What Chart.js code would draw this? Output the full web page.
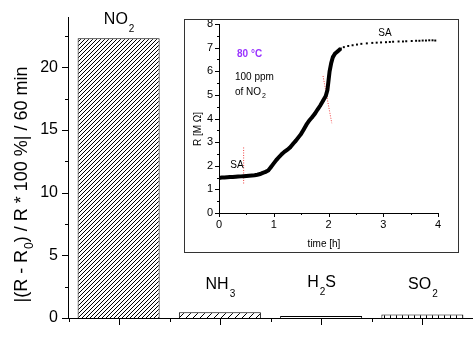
<!DOCTYPE html>
<html>
<head>
<meta charset="utf-8">
<script src="https://cdn.jsdelivr.net/npm/chart.js@4/dist/chart.umd.min.js"></script>
<style>
html,body{margin:0;padding:0;background:#fff;}
#wrap{position:relative;width:473px;height:361px;}
#inset{position:absolute;left:184px;top:19px;width:275px;height:234px;border:1px solid #333;box-sizing:border-box;background:#fff;}
canvas{display:block;}
</style>
</head>
<body>
<div id="wrap">
  <canvas id="main" width="473" height="361"></canvas>
  <div id="inset"><canvas id="ins" width="273" height="232"></canvas></div>
</div>
<script>
// main bar chart data
const gases = ['NO2','NH3','H2S','SO2'];
const gasLabels = [[['NO',0],['2',1]], [['NH',0],['3',1]], [['H',0],['2',1],['S',0]], [['SO',0],['2',1]]];
const labelY = [20, 285, 283, 285];
const response = [22.3, 0.45, 0.15, 0.27];
const yTicks = [0,5,10,15,20];
const yMinor = [2.5,7.5,12.5,17.5,22.5];

// inset: resistance vs time, 80 C, 100 ppm NO2
const riseTime = [0,0.05,0.1,0.15,0.2,0.25,0.3,0.35,0.4,0.45,0.5,0.55,0.6,0.65,0.7,0.75,0.8,0.85,0.9,0.95,
  1.0,1.05,1.1,1.15,1.2,1.25,1.3,1.35,1.4,1.45,1.5,1.55,1.6,1.65,1.7,1.75,1.8,1.85,1.9,1.95,1.98,2.0,2.02,2.05,2.08,2.12,2.17,2.22];
const riseR = [1.48,1.5,1.5,1.51,1.52,1.52,1.53,1.54,1.55,1.56,1.57,1.58,1.59,1.6,1.62,1.65,1.7,1.74,1.8,1.95,
  2.1,2.25,2.38,2.5,2.6,2.68,2.78,2.92,3.05,3.2,3.35,3.55,3.75,3.92,4.05,4.2,4.38,4.55,4.75,4.95,5.2,5.6,6.0,6.35,6.6,6.75,6.85,6.95];
const tailTime = [2.28,2.36,2.44,2.52,2.6,2.7,2.8,2.88,2.96,3.05,3.12,3.18,3.28,3.36,3.42,3.52,3.6,3.66,3.72,3.78,3.84,3.9,3.95];
const tailR = [7.02,7.07,7.1,7.13,7.16,7.18,7.2,7.21,7.22,7.23,7.24,7.25,7.26,7.26,7.27,7.28,7.29,7.29,7.3,7.3,7.31,7.31,7.3];
const mark1 = [[0.45,1.25],[0.45,2.8]];
const mark2 = [[1.9,5.8],[2.06,3.8]];
const insXTicks = [0,1,2,3,4];
const insYTicks = [0,1,2,3,4,5,6,7,8];

const FONT = 'Arial, "Liberation Sans", sans-serif';

function makePattern(size, draw){
  const c = document.createElement('canvas');
  c.width = c.height = size;
  const g = c.getContext('2d');
  g.fillStyle = '#fff'; g.fillRect(0,0,size,size);
  g.strokeStyle = '#000'; g.fillStyle = '#000'; g.lineWidth = 1;
  draw(g, size);
  return g.createPattern(c, 'repeat');
}
function diag(g, s){
  g.beginPath();
  g.moveTo(0,s); g.lineTo(s,0);
  g.moveTo(-1,1); g.lineTo(1,-1);
  g.moveTo(s-1,s+1); g.lineTo(s+1,s-1);
  g.stroke();
}
const fills = [
  makePattern(4, diag),
  makePattern(7, diag),
  makePattern(2, (g)=>{ g.fillRect(0,0,1,1); }),
  makePattern(6, (g,s)=>{ g.fillRect(0,0,1,s); })
];

// draw text made of normal / subscript parts
function drawParts(ctx, parts, x, y, size, align, subShift){
  const sub = Math.round(size*0.65);
  const shift = subShift || 0.45;
  let w = 0;
  const widths = parts.map(p=>{ ctx.font = (p[1]?sub:size)+'px '+FONT; const m = ctx.measureText(p[0]).width; w += m; return m; });
  let cx = align==='left' ? x : x - w/2;
  ctx.textAlign = 'left'; ctx.textBaseline = 'middle';
  parts.forEach((p,i)=>{
    ctx.font = (p[1]?sub:size)+'px '+FONT;
    ctx.fillText(p[0], cx + (p[1]?1:0), p[1] ? y + size*shift : y);
    cx += widths[i] + (p[1]?1:0);
  });
}

const mainDecor = {
  id:'mainDecor',
  afterDraw(chart){
    const ctx = chart.ctx, xs = chart.scales.x, ys = chart.scales.y;
    const x0 = chart.chartArea.left, yb = chart.chartArea.bottom;
    ctx.save();
    ctx.strokeStyle = '#000'; ctx.lineWidth = 1;
    ctx.beginPath();
    yTicks.forEach(v=>{ const p = Math.round(ys.getPixelForValue(v))+0.5; ctx.moveTo(x0-6,p); ctx.lineTo(x0,p); });
    yMinor.forEach(v=>{ const p = Math.round(ys.getPixelForValue(v))+0.5; ctx.moveTo(x0-3,p); ctx.lineTo(x0,p); });
    gases.forEach((g,i)=>{
      const c = Math.round(xs.getPixelForValue(i))+0.5;
      ctx.moveTo(c,yb); ctx.lineTo(c,yb+7);
      const b = Math.round(c - xs.width/gases.length/2)+0.5;
      ctx.moveTo(b,yb); ctx.lineTo(b,yb+4);
    });
    ctx.stroke();
    ctx.fillStyle = '#000';
    gasLabels.forEach((parts,i)=>{ drawParts(ctx, parts, xs.getPixelForValue(i), labelY[i], 16, 'center', 0.55); });
    // y title
    ctx.translate(22, 185);
    ctx.rotate(-Math.PI/2);
    drawParts(ctx, [['|(R - R',0],['0',1],[') / R * 100 %| / 60 min',0]], 0, 0, 18, 'center', 0.45);
    ctx.restore();
  }
};

new Chart(document.getElementById('main'), {
  type:'bar',
  data:{
    labels: gases,
    datasets:[{data: response, backgroundColor: fills, borderColor:'#000', borderWidth:1,
      barPercentage:0.81, categoryPercentage:1}]
  },
  options:{
    responsive:false, animation:false, events:[],
    layout:{padding:{top:17,left:0,right:0,bottom:0}},
    plugins:{legend:{display:false}, tooltip:{enabled:false}},
    scales:{
      x:{grid:{display:false, drawTicks:false}, border:{display:true,color:'#000',width:1},
        ticks:{display:false},
        afterFit:s=>{ s.height = 43; s.paddingLeft = 0; s.paddingRight = 0; }},
      y:{min:0, max:24, grid:{display:false, drawTicks:false}, border:{color:'#000',width:1},
        ticks:{stepSize:5, padding:10, color:'#000', font:{family:FONT, size:16},
          callback:v=> yTicks.includes(v) ? v : ''},
        afterFit:s=>{ s.width = 68; s.paddingTop = 0; s.paddingBottom = 0; }}
    }
  },
  plugins:[mainDecor]
});

const insDecor = {
  id:'insDecor',
  afterDraw(chart){
    const ctx = chart.ctx, xs = chart.scales.x, ys = chart.scales.y;
    const a = chart.chartArea;
    ctx.save();
    ctx.strokeStyle = '#000'; ctx.lineWidth = 1;
    ctx.beginPath();
    insYTicks.forEach(v=>{ const p = Math.round(ys.getPixelForValue(v))+0.5; ctx.moveTo(a.left-4,p); ctx.lineTo(a.left,p); });
    insYTicks.slice(0,-1).forEach(v=>{ const p = Math.round(ys.getPixelForValue(v+0.5))+0.5; ctx.moveTo(a.left-2,p); ctx.lineTo(a.left,p); });
    insXTicks.forEach(v=>{ const p = Math.round(xs.getPixelForValue(v))+0.5; ctx.moveTo(p,a.bottom); ctx.lineTo(p,a.bottom+4); });
    insXTicks.slice(0,-1).forEach(v=>{ const p = Math.round(xs.getPixelForValue(v+0.5))+0.5; ctx.moveTo(p,a.bottom); ctx.lineTo(p,a.bottom+2); });
    ctx.stroke();
    ctx.fillStyle = '#000';
    ctx.textAlign = 'center'; ctx.textBaseline = 'middle';
    ctx.font = '10px '+FONT;
    ctx.fillText('time [h]', 139, 224);
    ctx.fillText('SA', 200, 13);
    ctx.fillText('SA', 52, 145);
    ctx.textAlign = 'left';
    ctx.fillText('100 ppm', 50, 57);
    drawParts(ctx, [['of NO',0],['2',1]], 50, 72, 10, 'left', 0.4);
    ctx.font = 'bold 10px '+FONT;
    ctx.fillStyle = '#9933ff';
    ctx.fillText('80 \u00B0C', 52, 34);
    ctx.fillStyle = '#000';
    ctx.translate(13, 109);
    ctx.rotate(-Math.PI/2);
    ctx.textAlign = 'center';
    ctx.font = '10px '+FONT;
    ctx.fillText('R [M \u03A9]', 0, 0);
    ctx.restore();
  }
};

const toPts = (xs, ys) => xs.map((x,i)=>({x, y: ys[i]}));
const redLine = {showLine:true, borderColor:'#f04040', borderWidth:1, borderDash:[1,1.5], pointRadius:0};

new Chart(document.getElementById('ins'), {
  type:'scatter',
  data:{datasets:[
    {data: toPts(riseTime, riseR), showLine:true, borderColor:'#000', borderWidth:4,
      pointRadius:1.8, pointStyle:'rect', backgroundColor:'#000', pointBorderWidth:0},
    {data: toPts(tailTime, tailR), showLine:false, pointRadius:1.4, pointStyle:'rect',
      backgroundColor:'#000', pointBorderWidth:0},
    Object.assign({data: mark1.map(p=>({x:p[0], y:p[1]}))}, redLine),
    Object.assign({data: mark2.map(p=>({x:p[0], y:p[1]}))}, redLine)
  ]},
  options:{
    responsive:false, animation:false, events:[],
    layout:{padding:{top:4,right:20,left:0,bottom:0}},
    plugins:{legend:{display:false}, tooltip:{enabled:false}},
    scales:{
      x:{type:'linear', min:0, max:4, grid:{display:false, drawTicks:false}, border:{color:'#000',width:1},
        ticks:{stepSize:1, padding:5, color:'#000', font:{family:FONT, size:11}},
        afterFit:s=>{ s.height = 39; s.paddingLeft = 0; s.paddingRight = 0; }},
      y:{min:0, max:8, grid:{display:false, drawTicks:false}, border:{color:'#000',width:1},
        ticks:{stepSize:1, padding:6, color:'#000', font:{family:FONT, size:11}},
        afterFit:s=>{ s.width = 34; s.paddingTop = 0; s.paddingBottom = 0; }}
    }
  },
  plugins:[insDecor]
});
</script>
</body>
</html>
